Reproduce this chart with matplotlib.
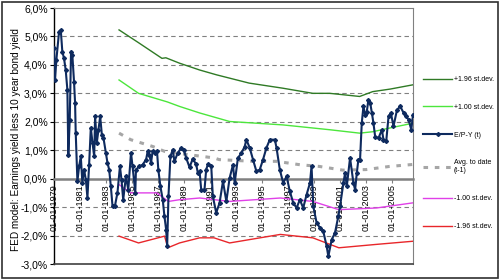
import matplotlib
matplotlib.use("Agg")
import matplotlib.pyplot as plt
from matplotlib.patches import Rectangle
from matplotlib.ticker import FuncFormatter, FixedLocator
import numpy as np

# ---- data ----
ep_years = [1979.0, 1979.08, 1979.18, 1979.39, 1979.52, 1979.64, 1979.77, 1979.90, 1980.03, 1980.10,
            1980.21, 1980.31, 1980.41, 1980.54, 1980.62, 1980.67, 1980.80, 1980.93, 1981.06, 1981.18,
            1981.31, 1981.45, 1981.57, 1981.70, 1981.83, 1981.96, 1982.09, 1982.16, 1982.29, 1982.42,
            1982.55, 1982.68, 1982.80, 1982.99, 1983.11, 1983.24, 1983.37, 1983.50, 1983.68, 1983.88,
            1984.07, 1984.19, 1984.32, 1984.53, 1984.71, 1984.92, 1985.04, 1985.25, 1985.30, 1985.56,
            1985.81, 1986.08, 1986.20, 1986.33, 1986.46, 1986.58, 1986.77, 1986.92, 1987.02, 1987.18,
            1987.36, 1987.49, 1987.62, 1987.70, 1987.80, 1987.95, 1988.13, 1988.26, 1988.51, 1988.78,
            1988.98, 1989.16, 1989.42, 1989.67, 1989.93, 1990.06, 1990.19, 1990.32, 1990.57, 1990.70,
            1990.83, 1991.09, 1991.21, 1991.47, 1991.73, 1991.99, 1992.25, 1992.50, 1992.76, 1992.89,
            1993.14, 1993.41, 1993.66, 1993.79, 1994.05, 1994.30, 1994.56, 1994.82, 1995.07, 1995.33,
            1995.59, 1995.98, 1996.11, 1996.36, 1996.62, 1996.88, 1997.13, 1997.39, 1997.65, 1997.90,
            1998.16, 1998.42, 1998.68, 1998.80, 1998.93, 1999.19, 1999.45, 1999.70, 1999.96, 2000.09,
            2000.35, 2000.60, 2000.86, 2000.99, 2001.25, 2001.38, 2001.51, 2001.76, 2002.02, 2002.15,
            2002.28, 2002.40, 2002.53, 2002.66, 2002.79, 2002.92, 2003.05, 2003.17, 2003.31, 2003.44,
            2003.56, 2003.69, 2003.95, 2004.21, 2004.33, 2004.54, 2004.72, 2004.90, 2005.10, 2005.37,
            2005.62, 2005.88, 2006.08, 2006.26, 2006.47, 2006.60]
ep_values = [4.59, 3.47, 4.17, 5.17, 5.23, 4.47, 4.23, 3.82, 3.12, 0.84,
             2.07, 4.47, 4.35, 3.41, 2.67, 1.61, -0.09, 0.43, 0.78, -0.14,
             0.32, -0.04, -0.67, 0.49, 1.79, 1.26, 0.78, 2.19, 1.26, 1.72,
             2.19, 1.54, 1.44, 0.91, 0.56, 0.32, -0.27, -0.97, -0.97, -0.49,
             0.43, -0.04, -0.74, 0.08, -0.39, 0.91, 0.43, -0.49, 0.32, 0.43,
             0.49, 0.67, 0.96, 0.84, 0.55, 0.96, 0.90, 0.96, 0.32, -0.27,
             -0.74, -1.32, -1.79, -2.37, -0.62, 0.78, 1.02, 0.61, 0.90, 1.08,
             1.02, 0.73, 0.40, 0.70, 0.50, 0.20, 0.26, -0.40, -0.39, 0.32,
             0.50, 0.43, -0.62, -1.20, -0.85, -0.09, -0.80, 0.02, 0.49, -0.15,
             0.73, 0.90, 1.13, 1.37, 1.08, 0.67, 0.26, 0.32, 0.67, 1.08,
             1.37, 1.37, 1.08, 0.32, -0.15, 0.08, -0.44, -0.85, -1.03, -0.74,
             -1.03, -0.56, -0.15, 0.45, -0.97, -1.55, -1.73, -1.85, -2.37, -2.73,
             -2.14, -1.91, -1.32, -0.97, -0.15, 0.20, -0.27, 0.73, -0.15, -0.39,
             0.20, 0.67, 0.67, 1.95, 2.54, 2.25, 2.36, 2.77, 2.66, 2.31,
             1.95, 1.48, 1.43, 1.72, 1.37, 1.31, 2.19, 2.31, 1.84, 2.42,
             2.54, 2.31, 2.19, 2.07, 1.72, 2.25]

p196_years = [1984.0, 1985.5, 1987.3, 1987.6, 1988.65, 1990.2, 1991.5, 1994.0, 1996.6, 1998.9, 2000.2, 2002.5, 2003.5, 2004.85, 2006.6]
p196_values = [5.23, 4.78, 4.23, 4.25, 4.06, 3.82, 3.65, 3.36, 3.18, 3.00, 3.00, 2.89, 3.06, 3.15, 3.30]

p100_years = [1984.0, 1985.5, 1987.7, 1988.65, 1990.2, 1992.5, 1996.6, 2000.2, 2002.5, 2003.5, 2005.0, 2006.6]
p100_values = [3.47, 3.00, 2.70, 2.54, 2.31, 2.01, 1.89, 1.72, 1.60, 1.65, 1.80, 1.95]

avg_years = [1984.0, 1984.9, 1986.6, 1987.5, 1989.4, 1991.3, 1991.7, 1994.3, 1996.1, 1997.9, 1999.4, 2001.2, 2003.0, 2004.8, 2006.6]
avg_values = [1.60, 1.37, 1.13, 0.96, 0.84, 0.73, 0.67, 0.61, 0.61, 0.49, 0.43, 0.30, 0.32, 0.43, 0.50]

m100_years = [1984.0, 1984.9, 1986.9, 1987.8, 1988.65, 1990.2, 1992.5, 1996.4, 1998.9, 2000.9, 2003.8, 2006.6]
m100_values = [-0.21, -0.50, -0.50, -0.80, -0.74, -0.68, -0.80, -0.68, -0.80, -1.09, -1.03, -0.85]

m196_years = [1984.0, 1985.5, 1987.0, 1987.5, 1987.75, 1988.65, 1990.2, 1991.3, 1992.5, 1996.4, 1998.9, 2000.9, 2003.8, 2006.6]
m196_values = [-2.02, -2.26, -2.08, -2.02, -2.43, -2.26, -2.08, -2.08, -2.26, -1.96, -2.08, -2.43, -2.31, -2.20]

x_tick_years = [1979, 1981, 1983, 1985, 1987, 1989, 1991, 1993, 1995, 1997, 1999, 2001, 2003, 2005]
x_tick_labels = ["01-01-%d" % y for y in x_tick_years]
y_ticks = [6, 5, 4, 3, 2, 1, 0, -1, -2, -3]

labels = ["+1.96 st.dev.", "+1.00 st.dev.", "E/P-Y (t)", "Avg. to date\n(t-1)", "-1.00 st.dev.", "-1.96 st.dev."]

# ---- plot ----
plt.rcParams['font.family'] = ['Liberation Sans', 'DejaVu Sans']
fig = plt.figure(figsize=(5.0, 2.8), dpi=100)
fig.patch.set_facecolor('white')
ax = fig.add_axes([54/500, 16/280, (413-54)/500, (264-8)/280])

ax.set_xlim(1979.0, 2006.6)
ax.set_ylim(-3, 6)

for v in y_ticks:
    if v not in (0, 6, -3):
        ax.axhline(v, color='#808080', lw=0.8, ls=(0, (4, 3)), zorder=1)

l1, = ax.plot(p196_years, p196_values, color='#2F7A25', lw=1.0, zorder=3)
l2, = ax.plot(p100_years, p100_values, color='#4CE63C', lw=1.0, zorder=3)
l4, = ax.plot(avg_years, avg_values, color='#A6A6A6', lw=2.2, ls=(0, (1.5, 2.2)), zorder=3)
l5, = ax.plot(m100_years, m100_values, color='#E040E8', lw=1.0, zorder=3)
l6, = ax.plot(m196_years, m196_values, color='#E8262A', lw=1.0, zorder=3)
l3, = ax.plot(ep_years, ep_values, color='#0E2A5E', lw=1.5, marker='D', ms=2.0, zorder=4)

# axes styling
ax.spines['bottom'].set_position(('data', 0))
ax.spines['bottom'].set_color('#808080')
ax.spines['bottom'].set_linewidth(1.8)
ax.spines['top'].set_color('#808080')
ax.spines['right'].set_color('#808080')
ax.spines['left'].set_color('#000000')
ax.spines['left'].set_linewidth(1.0)
ax.axhline(-3, color='#404040', lw=1.2, clip_on=False, zorder=5)

ax.xaxis.set_major_locator(FixedLocator(x_tick_years))
ax.set_xticklabels(x_tick_labels, rotation=90, fontsize=6.6, va='top', ha='center')
ax.tick_params(axis='x', direction='out', length=3, color='#808080', pad=1)
ax.yaxis.set_major_locator(FixedLocator(y_ticks))
ax.yaxis.set_major_formatter(FuncFormatter(lambda v, p: ("%.1f%%" % v).replace('.', ',')))
ax.tick_params(axis='y', direction='out', length=3, labelsize=7.5, pad=1.5)

fig.text(16/500, 0.5, "FED model: Earnings yield less 10 year bond yield", rotation=90,
         ha='center', va='center', fontsize=7.2)

fig.legend([l1, l2, l3, l4, l5, l6], labels, loc='upper left', bbox_to_anchor=(423/500, 1 - 76/280),
           frameon=False, fontsize=5.0, handlelength=4.2, handletextpad=0.25, labelspacing=3.0,
           borderpad=0, borderaxespad=0)

fig.add_artist(Rectangle((0.004, 0.007), 0.992, 0.986, transform=fig.transFigure,
                         fill=False, edgecolor='#303030', lw=1.2))

fig.savefig('out.png', dpi=100, facecolor='white')
